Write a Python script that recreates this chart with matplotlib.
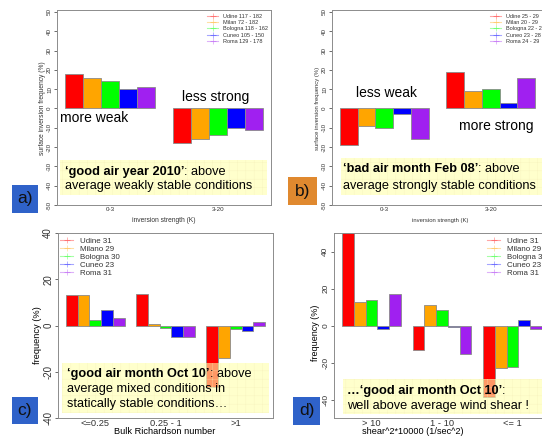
import numpy as np
import matplotlib
matplotlib.use('Agg')
import matplotlib.pyplot as plt
from matplotlib.patches import Rectangle
from matplotlib.lines import Line2D
from matplotlib.text import Annotation

plt.rcParams['font.family'] = ['Liberation Sans', 'DejaVu Sans']
plt.rcParams['hatch.linewidth'] = 0.35

W, H = 542, 437

bar_colors = ['#FF0000', '#FFA500', '#00FF00', '#0000FF', '#A020F0']

# a) good air year 2010, inversion strength classes (K)
inv_classes = ['0-3', '3-20']
a_weak = [18, 16, 14, 10, 11]
a_strong = [-18, -16, -14, -10, -11]
a_legend = ['Udine 117 - 182', 'Milan 72 - 182', 'Bologna 118 - 162',
            'Cuneo 105 - 150', 'Roma 129 - 178']

# b) bad air month Feb 08
b_weak = [-19, -9, -10, -3, -16]
b_strong = [19, 9, 10, 3, 16]
b_legend = ['Udine 25 - 29', 'Milan 20 - 29', 'Bologna 22 - 29',
            'Cuneo 23 - 28', 'Roma 24 - 29']

# c) Oct 10, bulk Richardson number classes
ri_classes = ['<=0.25', '0.25 - 1', '>1']
c_low = [13, 13, 2.2, 6.8, 3.4]
c_mid = [13.7, 0.8, -1.2, -5, -5]
c_high = [-26.6, -14, -1.4, -2.3, 1.3]

# d) Oct 10, wind shear classes
shear_classes = ['> 10', '1 - 10', '<= 1']
d_high = [52, 12.6, 14, -1.8, 16.8]
d_mid = [-13, 11.2, 8.6, -0.9, -15.3]
d_low = [-38.5, -22.9, -22.4, 2.9, -1.8]

oct_legend = ['Udine 31', 'Milano 29', 'Bologna 30', 'Cuneo 23', 'Roma 31']

fig = plt.figure(figsize=(W / 100, H / 100), dpi=100)


def px_axes(left, right, top, bottom):
    return fig.add_axes([left / W, 1 - bottom / H, (right - left) / W, (bottom - top) / H])


def ftext(x, y, s, **kw):
    return fig.text(x / W, 1 - y / H, s, **kw)


def draw_bars(ax, groups, names):
    n = len(groups)
    for g, vals in enumerate(groups):
        x = g * 6 + 1.5 + np.arange(len(vals))
        ax.bar(x, vals, width=1, color=bar_colors, edgecolor='#8a8a8a',
               linewidth=0.6, zorder=2)
    span = 6 * n - 1
    ax.set_xlim(1 - 0.04 * span, 6 * n + 0.04 * span)
    ax.set_xticks([g * 6 + 3.5 for g in range(n)])
    ax.set_xticklabels(names)


def style_axes(ax, ylim, yticks, ysize, xsize, xpad):
    ax.set_ylim(*ylim)
    ax.set_yticks(yticks)
    ax.set_yticklabels([str(v) for v in yticks], rotation=90, va='center')
    ax.tick_params(axis='y', length=2.5, width=0.5, pad=1, labelsize=ysize,
                   colors='#333333')
    ax.tick_params(axis='x', length=0, pad=xpad, labelsize=xsize, colors='#333333')
    for sp in ax.spines.values():
        sp.set_color('#8c8c8c')
        sp.set_linewidth(0.7)


def add_legend(ax, labels, x, y, size, hlen, hpad, spacing):
    handles = [Line2D([], [], color=c, alpha=0.35, lw=0.8, marker='+', ms=4, mew=0.6)
               for c in bar_colors]
    leg = ax.legend(handles, labels, loc='upper left', bbox_to_anchor=(x / W, 1 - y / H),
                    bbox_transform=fig.transFigure, frameon=False, fontsize=size,
                    borderpad=0, borderaxespad=0, handlelength=hlen,
                    handletextpad=hpad, labelspacing=spacing)
    for t in leg.get_texts():
        t.set_color('#333333')


def note_box(x0, x1, y0, y1, lines, tx, ty, dy, size=9.2):
    box = Rectangle((x0 / W, 1 - y1 / H), (x1 - x0) / W, (y1 - y0) / H,
                    transform=fig.transFigure, facecolor='#FFFFAA', alpha=0.6,
                    edgecolor='#F4EEB8', linewidth=0, hatch='++', zorder=3)
    fig.add_artist(box)
    for i, (bold, rest) in enumerate(lines):
        y = ty + i * dy
        if bold:
            t = ftext(tx, y, bold, fontsize=size, fontweight='bold', va='center',
                      zorder=4)
            if rest:
                ann = Annotation(rest, xy=(1, 0), xycoords=t, va='bottom', ha='left',
                                 fontsize=size, zorder=4)
                fig.add_artist(ann)
        else:
            ftext(tx, y, rest, fontsize=size, va='center', zorder=4)


def panel_tag(x0, x1, y0, y1, label, color):
    fig.add_artist(Rectangle((x0 / W, 1 - y1 / H), (x1 - x0) / W, (y1 - y0) / H,
                             transform=fig.transFigure, facecolor=color,
                             linewidth=0, zorder=5))
    ftext((x0 + x1) / 2, (y0 + y1) / 2, label, fontsize=12.5, ha='center',
          va='center', color='#111111', zorder=6)


# ---- a) ----
ax_a = px_axes(57, 271, 10, 205)
draw_bars(ax_a, [a_weak, a_strong], inv_classes)
style_axes(ax_a, (-50, 51), list(range(-50, 51, 10)), 4.5, 4.5, 1.5)
add_legend(ax_a, a_legend, 207, 13.5, 4, 2.0, 0.9, 0.25)
ftext(42, 108, 'surface inversion frequency (%)', fontsize=4.8, rotation=90,
      ha='center', va='center', color='#333333')
ftext(164, 220, 'inversion strength (K)', fontsize=4.8, ha='center', va='center',
      color='#333333')
ftext(60, 118, 'more weak', fontsize=10, va='center')
ftext(182, 97, 'less strong', fontsize=10, va='center')
note_box(60, 267, 160, 195,
         [('\u2018good air year 2010\u2019', ': above'),
          (None, 'average weakly stable conditions')], 65, 172, 13.5)
panel_tag(12, 38, 185, 213, 'a)', '#2F62C9')

# ---- b) ----
ax_b = px_axes(332, 543, 10, 205)
draw_bars(ax_b, [b_weak, b_strong], inv_classes)
style_axes(ax_b, (-50, 51), list(range(-50, 51, 10)), 4.5, 4.5, 1.5)
add_legend(ax_b, b_legend, 490, 13.5, 4, 2.0, 0.9, 0.25)
ftext(318, 108, 'surface inversion frequency (%)', fontsize=4.2, rotation=90,
      ha='center', va='center', color='#333333')
ftext(440, 220, 'inversion strength (K)', fontsize=4.2, ha='center', va='center',
      color='#333333')
ftext(356, 93, 'less weak', fontsize=10, va='center')
ftext(459, 126, 'more strong', fontsize=10, va='center')
note_box(341, 542, 158, 195,
         [('\u2018bad air month Feb 08\u2019', ': above'),
          (None, 'average strongly stable conditions')], 343, 169, 17.5)
panel_tag(288, 317, 177, 205, 'b)', '#E0892F')

# ---- c) ----
ax_c = px_axes(58, 273, 233, 418)
draw_bars(ax_c, [c_low, c_mid, c_high], ri_classes)
style_axes(ax_c, (-40, 40), [-40, -20, 0, 20, 40], 7, 6.7, 0.5)
add_legend(ax_c, oct_legend, 60, 237.5, 5.7, 1.65, 0.9, 0.05)
ftext(38, 335, 'frequency (%)', fontsize=6.7, rotation=90, ha='center', va='center')
ftext(165, 432, 'Bulk Richardson number', fontsize=6.7, ha='center', va='center')
note_box(62, 269, 363, 413,
         [('\u2018good air month Oct 10\u2019', ': above'),
          (None, 'average mixed conditions in'),
          (None, 'statically stable conditions\u2026')], 67, 374, 15)
panel_tag(12, 38, 397, 424, 'c)', '#2F62C9')

# ---- d) ----
ax_d = px_axes(334, 550, 233, 418)
draw_bars(ax_d, [d_high, d_mid, d_low], shear_classes)
style_axes(ax_d, (-50, 50), [-40, -20, 0, 20, 40], 6, 6.7, 0.5)
add_legend(ax_d, oct_legend, 487, 237.5, 5.7, 1.65, 0.9, 0.05)
ftext(316, 333, 'frequency (%)', fontsize=6.5, rotation=90, ha='center', va='center')
ftext(413, 432, 'shear^2*10000 (1/sec^2)', fontsize=6.6, ha='center', va='center')
note_box(343, 542, 379, 414,
         [('\u2026\u2018good air month Oct 10\u2019', ':'),
          (None, 'well above average wind shear !')], 347, 391, 15)
panel_tag(293, 320, 397, 425, 'd)', '#2F62C9')

fig.savefig('out.png', dpi=100)
